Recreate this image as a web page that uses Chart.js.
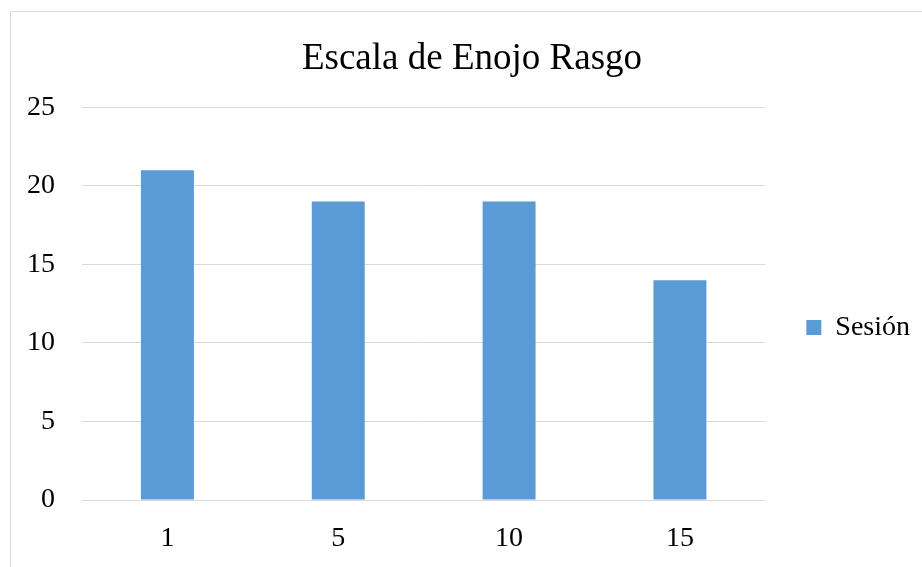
<!DOCTYPE html>
<html>
<head>
<meta charset="utf-8">
<script src="https://cdn.jsdelivr.net/npm/chart.js@4"></script>
<style>
    html, body { margin: 0; padding: 0; background: #fff; overflow: hidden; }
    #frame {
        position: absolute;
        left: 10px;
        top: 11px;
        width: 922px;
        height: 570px;
        border: 1px solid #d9d9d9;
    }
</style>
</head>
<body>
<div id="frame"><canvas id="barChart" width="922" height="570"></canvas></div>
<script>
// Data
const sessions = ['1', '5', '10', '15'];
const scores = [21, 19, 19, 14];
const yTicks = [0, 5, 10, 15, 20, 25];

const serif = "'Liberation Serif', 'Times New Roman', serif";

const ctx = document.getElementById('barChart').getContext('2d');
new Chart(ctx, {
    type: 'bar',
    data: {
        labels: sessions,
        datasets: [{
            label: 'Sesión',
            data: scores,
            backgroundColor: '#5B9BD5',
            borderWidth: 0,
            barPercentage: 0.31,
            categoryPercentage: 1
        }]
    },
    options: {
        responsive: false,
        animation: false,
        layout: { padding: { left: 13, right: 13 } },
        plugins: {
            title: {
                display: true,
                text: 'Escala de Enojo Rasgo',
                color: '#000',
                font: { family: serif, size: 37, weight: 'normal' },
                padding: { top: 25, bottom: 26 }
            },
            legend: {
                position: 'right',
                title: { display: true, text: '', font: { size: 1 }, padding: 30 },
                labels: {
                    color: '#000',
                    font: { family: serif, size: 28 },
                    boxWidth: 15,
                    boxHeight: 15,
                    padding: 41
                }
            },
            tooltip: { enabled: false }
        },
        scales: {
            x: {
                grid: { display: false, drawTicks: false },
                border: { display: false },
                ticks: {
                    color: '#000',
                    font: { family: serif, size: 28 },
                    padding: 22
                },
                afterFit: (scale) => { scale.height = 82; }
            },
            y: {
                min: 0,
                max: 25,
                afterBuildTicks: (scale) => { scale.ticks = yTicks.map(v => ({ value: v })); },
                grid: { color: '#d9d9d9', lineWidth: 1, drawTicks: false },
                border: { display: false },
                ticks: {
                    color: '#000',
                    font: { family: serif, size: 28 },
                    padding: 27
                },
                afterFit: (scale) => { scale.width = 58; }
            }
        }
    }
});
</script>
</body>
</html>
